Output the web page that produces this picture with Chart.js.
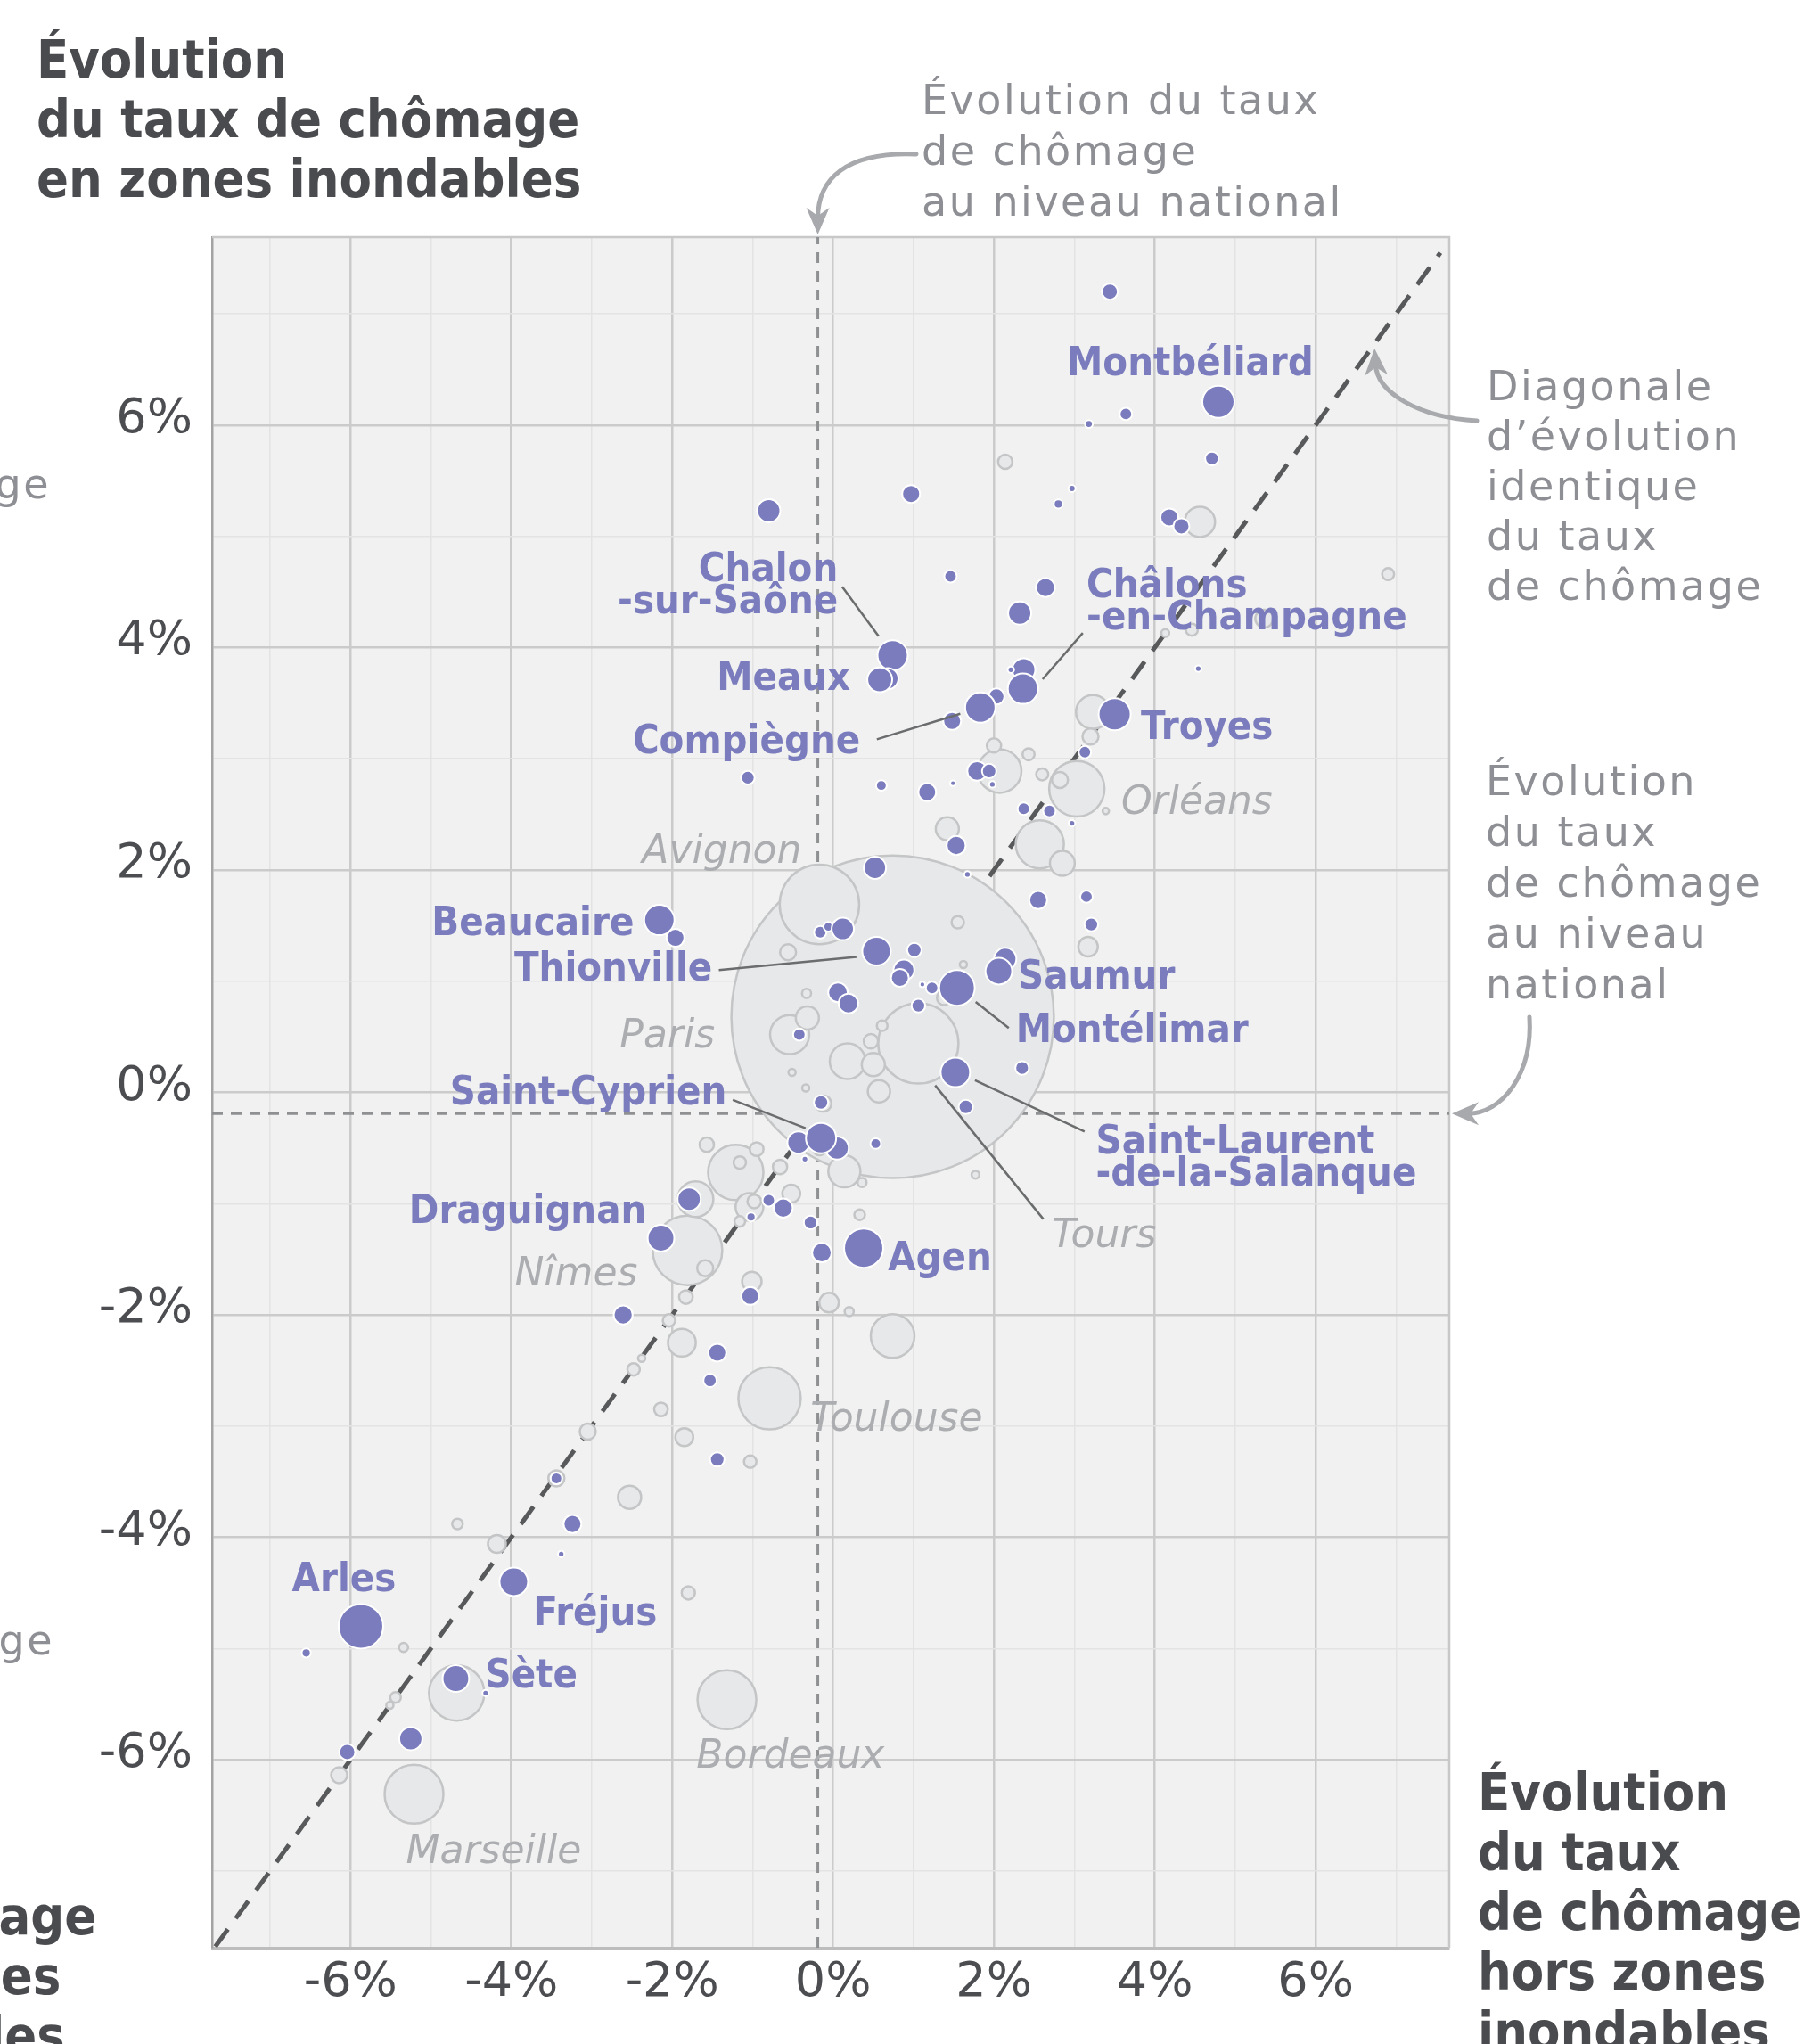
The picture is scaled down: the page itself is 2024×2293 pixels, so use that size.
<!DOCTYPE html>
<html lang="fr">
<head>
<meta charset="utf-8">
<title>Évolution du taux de chômage en zones inondables</title>
<script src="https://cdn.jsdelivr.net/npm/chart.js@4.4.1/dist/chart.umd.min.js"></script>
<style>
  html,body{margin:0;padding:0;background:#fff;}
  #wrap{position:relative;width:2024px;height:2293px;overflow:hidden;background:#fff;}
  #c{position:absolute;left:0;top:0;}
  .ttl{position:absolute;white-space:pre;font-family:"DejaVu Sans Condensed","DejaVu Sans",sans-serif;font-stretch:condensed;font-weight:bold;font-size:59px;line-height:67px;color:#4a4b4e;}
  .ann{position:absolute;white-space:pre;font-family:"DejaVu Sans",sans-serif;font-size:46px;line-height:57px;color:#8e8f94;letter-spacing:2.5px;}
</style>
</head>
<body>
<div id="wrap">
<canvas id="c" width="2024" height="2293"></canvas>
<div class="ttl" style="left:41px;top:33px;">Évolution
du taux de chômage
en zones inondables</div>
<div class="ttl" style="left:1658px;top:1977px;">Évolution
du taux
de chômage
hors zones
inondables</div>
<div class="ttl" style="left:-255px;top:2116px;">de chômage
hors zones
inondables</div>
<div class="ann" style="left:1034px;top:84px;">Évolution du taux
de chômage
au niveau national</div>
<div class="ann" style="left:1668px;top:405px;line-height:56px;">Diagonale
d’évolution
identique
du taux
de chômage</div>
<div class="ann" style="left:1667px;top:848px;">Évolution
du taux
de chômage
au niveau
national</div>
<div class="ann" style="left:-400px;width:457px;text-align:right;top:515px;">de chômage</div>
<div class="ann" style="left:-400px;width:461px;text-align:right;top:1812px;">de chômage</div>
</div>
<script>
// ---- Data (percentage-point change of the unemployment rate) ----
// purple bubbles : communes shown in colour
const purpleX = [3.44,4.79,3.64,3.18,4.71,0.97,2.97,2.80,4.18,4.33, 1.46,2.64,2.32,-0.80,0.74,0.68,0.58,2.37,2.21,2.36, 2.03,1.83,1.48,3.50,3.13,4.54,1.79,1.94,1.98,0.60, 1.17,1.49,-1.06,2.37,2.69,2.97,1.53,1.67,2.55,3.15, 3.21,0.52,-2.16,-1.96,-0.16,-0.06,0.12,0.54,1.01,0.88, 0.83,1.11,1.23,1.54,1.06,0.06,0.19,-0.42,1.52,1.65, 2.35,2.14,2.06,-0.15,-0.43,0.05,-0.15,-0.35,0.53,-0.80, -0.62,-1.02,-0.28,-0.14,0.38,-1.79,-2.14,-1.03,-2.61,-1.44, -1.53,-1.44,-3.44,-3.24,-3.38,-3.97,-5.87,-6.55,-4.69,-4.32,-5.25,-6.04];
const purpleY = [7.20,6.21,6.10,6.01,5.70,5.38,5.43,5.29,5.17,5.09, 4.64,4.54,4.31,5.23,3.93,3.72,3.71,3.80,3.80,3.63, 3.56,3.46,3.34,3.40,3.06,3.81,2.89,2.89,2.77,2.76, 2.70,2.78,2.83,2.55,2.53,2.42,2.22,1.96,1.73,1.76, 1.51,2.02,1.55,1.39,1.44,1.49,1.47,1.27,1.28,1.10, 1.03,0.97,0.94,0.94,0.78,0.90,0.80,0.52,0.18,-0.13, 0.22,1.20,1.09,-0.09,-0.45,-0.50,-0.41,-0.60,-0.46,-0.97, -1.04,-1.12,-1.17,-1.44,-1.40,-0.96,-1.31,-1.83,-2.00,-2.34, -2.59,-3.30,-3.47,-3.88,-4.15,-4.40,-4.80,-5.04,-5.27,-5.40,-5.81,-5.93];
const purpleSize = [25,100,15,6,18,31,5,8,31,25, 15,35,52,52,89,44,60,52,4,89, 25,89,31,100,15,4,37,20,4,11, 31,3,18,15,15,4,35,4,31,15, 18,48,89,31,15,9,48,79,20,42, 31,3,15,123,18,37,37,15,84,20, 18,48,69,20,48,52,89,4,11,15, 35,8,18,37,149,52,69,31,35,31, 17,20,13,31,4,79,193,8,69,4,52,25];
// grey bubbles : large urban areas
const grayX = [2.14,4.56,6.90,5.36,4.46,4.13,3.23,3.20,2.00,2.07, 2.43,2.60,2.82,3.03,3.39,1.42,2.57,2.85,3.17,1.55, 1.62,1.38,-0.17,0.74,1.06,0.18,0.47,0.50,0.61,0.57, -0.54,-0.32,-0.33,-0.51,-0.34,-0.56,-0.12,-0.17,0.14,0.36, 1.77,-1.57,-1.21,-1.16,-0.95,-0.66,-0.52,-1.04,-0.98,-1.16, 0.33,-1.71,-1.81,-1.59,-1.01,-1.83,-2.04,-1.88,-0.05,0.20, 0.74,-2.38,-2.48,-0.79,-2.14,-3.05,-1.85,-1.03,-3.44,-2.53, -4.67,-4.18,-1.80,-5.34,-4.68,-5.44,-5.51,-6.14,-5.21,-1.32, 3.40];
const grayY = [5.67,5.13,4.66,4.26,4.16,4.13,3.42,3.20,3.12,2.89, 3.04,2.86,2.81,2.73,2.53,2.37,2.23,2.06,1.31,1.53, 1.15,0.85,1.69,0.68,0.44,0.28,0.46,0.25,0.60,0.01, 0.52,0.67,0.89,0.18,0.04,1.26,-0.10,-0.51,-0.71,-0.81, -0.74,-0.47,-0.72,-0.63,-0.51,-0.67,-0.91,-1.03,-0.98,-1.16, -1.10,-0.96,-1.42,-1.58,-1.70,-1.84,-2.05,-2.25,-1.89,-1.97, -2.19,-2.39,-2.49,-2.75,-2.85,-3.05,-3.10,-3.32,-3.47,-3.64, -3.88,-4.06,-4.50,-4.99,-5.40,-5.44,-5.51,-6.14,-6.31,-5.46, 3.41];
const graySize = [20,89,14,31,14,6,111,25,20,185, 14,14,25,297,4,52,225,60,37,15, 5,20,614,10100,625,123,20,52,11,48, 149,52,8,5,5,25,25,15,100,8, 6,20,297,15,18,20,31,75,18,11, 11,123,469,25,37,18,15,75,37,8, 185,5,15,378,18,25,31,15,25,52, 11,31,17,8,297,11,5,25,336,336, 6];
// national evolution (both axes)
const nationalEvolution = -0.19;
// ticks
const gridSteps = [-7,-6,-5,-4,-3,-2,-1,0,1,2,3,4,5,6,7];
const tickLabels = [-6,-4,-2,0,2,4,6];
// labelled communes
const purpleNames = ['Montbéliard','Chalon\n-sur-Saône','Meaux','Compiègne','Châlons\n-en-Champagne','Troyes','Beaucaire','Thionville','Saumur','Montélimar','Saint-Laurent\n-de-la-Salanque','Saint-Cyprien','Draguignan','Agen','Arles','Fréjus','Sète'];
const grayNames = ['Orléans','Avignon','Paris','Tours','Nîmes','Toulouse','Bordeaux','Marseille'];

// ---- annotation layout (label anchors in axis units) ----
const purpleLabelPos = [
  [2.907,6.446,'left'],[0.061,4.596,'right'],[0.216,3.618,'right'],[0.338,3.049,'right'],
  [3.151,4.451,'left'],[3.826,3.177,'left'],[-2.475,1.414,'right'],[-1.50,1.006,'right'],
  [2.298,0.934,'left'],[2.272,0.453,'left'],[3.267,-0.549,'left'],[-1.323,-0.108,'right'],
  [-2.320,-1.173,'right'],[0.681,-1.599,'left'],[-6.727,-4.483,'left'],[-3.727,-4.788,'left'],[-4.324,-5.348,'left']
];
const grayLabelPos = [[3.582,2.504],[-2.375,2.063],[-2.652,0.405],[2.719,-1.390],[-3.959,-1.735],[-0.282,-3.041],[-1.700,-6.070],[-5.310,-6.927]];
const leaders = [
  [0.113,4.547,0.566,4.102],[3.104,4.131,2.605,3.715],[0.544,3.175,1.581,3.404],
  [-1.420,1.100,0.290,1.218],[1.773,0.814,2.184,0.579],[1.764,0.109,3.126,-0.351],
  [1.269,0.063,2.614,-1.139],[-1.247,-0.067,-0.342,-0.322]
];

const PURPLE = '#7a7cbd';
const sizeToRadius = s => 1.8 * Math.sqrt(s);
const purpleData = purpleX.map((x,i)=>({x, y:purpleY[i], r:sizeToRadius(purpleSize[i])}));
const grayData = grayX.map((x,i)=>({x, y:grayY[i], r:sizeToRadius(graySize[i])})).sort((a,b)=>b.r-a.r);

function drawArrow(ctx, p0, c1, c2, tip){
  const dx = tip[0]-c2[0], dy = tip[1]-c2[1];
  const L = Math.hypot(dx,dy), ux = dx/L, uy = dy/L;
  const hl = 30, hw = 13;
  ctx.beginPath();
  ctx.moveTo(p0[0],p0[1]);
  ctx.bezierCurveTo(c1[0],c1[1],c2[0],c2[1],tip[0]-ux*hl*0.6,tip[1]-uy*hl*0.6);
  ctx.stroke();
  const bx = tip[0]-ux*hl, by = tip[1]-uy*hl;
  ctx.beginPath();
  ctx.moveTo(tip[0],tip[1]);
  ctx.lineTo(bx - uy*hw, by + ux*hw);
  ctx.lineTo(tip[0]-ux*hl*0.7, tip[1]-uy*hl*0.7);
  ctx.lineTo(bx + uy*hw, by - ux*hw);
  ctx.closePath();
  ctx.fill();
}

const decor = {
  id:'decor',
  beforeDraw(chart){
    const {ctx, chartArea:a} = chart;
    ctx.save();
    ctx.fillStyle = '#f0f1f0';
    ctx.fillRect(a.left, a.top, a.right-a.left, a.bottom-a.top);
    ctx.restore();
  },
  beforeDatasetsDraw(chart){
    const {ctx, chartArea:a} = chart;
    ctx.save();
    ctx.strokeStyle = '#c8c8c8'; ctx.lineWidth = 2.5;
    ctx.beginPath(); ctx.moveTo(a.left, a.top); ctx.lineTo(a.right, a.top); ctx.lineTo(a.right, a.bottom); ctx.stroke();
    ctx.restore();
  },
  afterDatasetsDraw(chart){
    const {ctx} = chart; const xs = chart.scales.x, ys = chart.scales.y;
    ctx.save();
    ctx.strokeStyle = '#6b6c6e'; ctx.lineWidth = 2.5;
    leaders.forEach(l=>{
      ctx.beginPath();
      ctx.moveTo(xs.getPixelForValue(l[0]), ys.getPixelForValue(l[1]));
      ctx.lineTo(xs.getPixelForValue(l[2]), ys.getPixelForValue(l[3]));
      ctx.stroke();
    });
    ctx.textBaseline = 'alphabetic';
    ctx.font = 'bold 45px "DejaVu Sans Condensed", "DejaVu Sans"';
    ctx.fillStyle = PURPLE;
    purpleNames.forEach((name,i)=>{
      const p = purpleLabelPos[i];
      ctx.textAlign = p[2];
      const px = xs.getPixelForValue(p[0]), py = ys.getPixelForValue(p[1]);
      name.split('\n').forEach((ln,k)=> ctx.fillText(ln, px, py + k*36));
    });
    ctx.font = 'italic 44px "DejaVu Sans"';
    ctx.fillStyle = '#abadb0';
    ctx.textAlign = 'left';
    grayNames.forEach((name,i)=>{
      const p = grayLabelPos[i];
      ctx.fillText(name, xs.getPixelForValue(p[0]), ys.getPixelForValue(p[1]));
    });
    ctx.restore();
  },
  afterDraw(chart){
    const {ctx, chartArea:a} = chart; const xs = chart.scales.x, ys = chart.scales.y;
    ctx.save();
    ctx.strokeStyle = '#a7a9ac'; ctx.fillStyle = '#a7a9ac'; ctx.lineWidth = 5; ctx.lineCap = 'round';
    const nx = xs.getPixelForValue(nationalEvolution), ny = ys.getPixelForValue(nationalEvolution);
    drawArrow(ctx, [1028,173], [950,170], [nx,200], [nx, a.top-3]);
    const dx = xs.getPixelForValue(6.72), dy = ys.getPixelForValue(6.72);
    drawArrow(ctx, [1657,472], [1590,468], [dx+4,440], [dx+1, dy+4]);
    drawArrow(ctx, [1716,1141], [1720,1205], [1685,ny], [a.right+3, ny]);
    ctx.restore();
  }
};

const isMajor = t => t && Math.abs(t.value % 2) === 0;
const fmt = v => v + '%';
const tickFont = {family:'"DejaVu Sans"', size:54};

new Chart(document.getElementById('c'), {
  type:'bubble',
  data:{ datasets:[
    {label:'Communes', data:purpleData, backgroundColor:PURPLE, borderColor:'#ffffff', borderWidth:2},
    {label:'Grandes villes', data:grayData, backgroundColor:'#e7e8e9', borderColor:'#c4c5c6', borderWidth:2.5},
    {type:'line', label:'Diagonale', data:[{x:-7.68,y:-7.68},{x:7.55,y:7.55}], borderColor:'#58595b', borderWidth:5, borderDash:[24,15], pointRadius:0, fill:false},
    {type:'line', label:'National X', data:[{x:nationalEvolution,y:-7.69},{x:nationalEvolution,y:7.69}], borderColor:'#8f9092', borderWidth:3, borderDash:[12,9], pointRadius:0, fill:false},
    {type:'line', label:'National Y', data:[{x:-7.72,y:nationalEvolution},{x:7.66,y:nationalEvolution}], borderColor:'#8f9092', borderWidth:3, borderDash:[12,9], pointRadius:0, fill:false}
  ]},
  options:{
    responsive:false, animation:false, events:[], devicePixelRatio:1,
    layout:{autoPadding:false, padding:{left:0, top:266, right:398, bottom:0}},
    plugins:{legend:{display:false}, tooltip:{enabled:false}},
    scales:{
      x:{
        type:'linear', min:-7.72, max:7.66, bounds:'data',
        afterBuildTicks: ax => { ax.ticks = gridSteps.map(v=>({value:v})); },
        afterFit: s => { s.height = 108; },
        grid:{drawTicks:false, color:c=>isMajor(c.tick)?'#cbcbcb':'#e2e3e2', lineWidth:c=>isMajor(c.tick)?2.5:1.5},
        border:{display:true, color:'#bdbdbd', width:3},
        ticks:{autoSkip:false, maxRotation:0, minRotation:0, padding:8, color:'#4c4d50', font:tickFont,
               callback:v=>tickLabels.includes(v)?fmt(v):''}
      },
      y:{
        type:'linear', min:-7.69, max:7.69, bounds:'data',
        afterBuildTicks: ax => { ax.ticks = gridSteps.map(v=>({value:v})); },
        afterFit: s => { s.width = 238; },
        grid:{drawTicks:false, color:c=>isMajor(c.tick)?'#cbcbcb':'#e2e3e2', lineWidth:c=>isMajor(c.tick)?2.5:1.5},
        border:{display:true, color:'#a3a3a3', width:2.5},
        ticks:{autoSkip:false, padding:22, labelOffset:-6, color:'#4c4d50', font:tickFont,
               callback:v=>tickLabels.includes(v)?fmt(v):''}
      }
    }
  },
  plugins:[decor]
});
</script>
</body>
</html>
